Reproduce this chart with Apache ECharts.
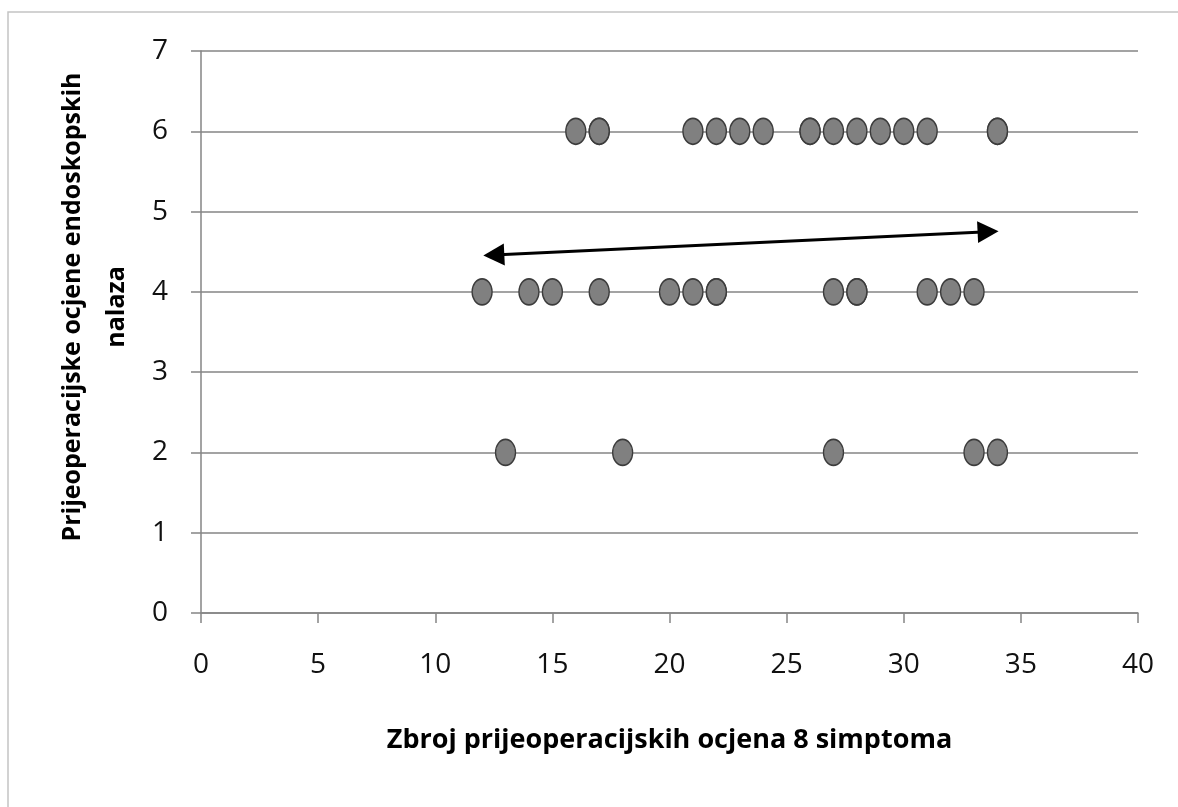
<!DOCTYPE html>
<html>
<head>
<meta charset="utf-8">
<script src="https://cdn.jsdelivr.net/npm/echarts@6/dist/echarts.min.js"></script>
<style>
html,body{margin:0;padding:0;background:#fff;}
#chart{width:1178px;height:807px;}
</style>
</head>
<body>
<div id="chart"></div>
<script>
// Data (repeated values are overlapping markers)
var row6X = [16, 17, 17, 21, 22, 23, 24, 26, 26, 27, 28, 29, 30, 31, 34, 34];
var row4X = [12, 14, 15, 17, 20, 21, 22, 22, 27, 28, 28, 31, 32, 33];
var row2X = [13, 18, 27, 33, 34];
var arrowFrom = [12.5, 4.46];
var arrowTo = [33.6, 4.75];
var xTitle = 'Zbroj prijeoperacijskih ocjena 8 simptoma';
var yTitle = 'Prijeoperacijske ocjene endoskopskih\nnalaza';

var points = [];
row6X.forEach(function (x) { points.push([x, 6]); });
row4X.forEach(function (x) { points.push([x, 4]); });
row2X.forEach(function (x) { points.push([x, 2]); });

var FONT = '"Open Sans", "Noto Sans", sans-serif';
var chart = echarts.init(document.getElementById('chart'));
chart.setOption({
  animation: false,
  backgroundColor: '#fff',
  grid: { left: 201, right: 40, top: 51, bottom: 194, containLabel: false },
  graphic: [
    { type: 'rect', shape: { x: 8, y: 12, width: 1300, height: 900 },
      style: { fill: 'none', stroke: '#c4c4c4', lineWidth: 1.5 }, silent: true, z: -1 },
    { type: 'text', x: 95, y: 307, rotation: Math.PI / 2,
      style: { text: yTitle, align: 'center', verticalAlign: 'middle',
        fontFamily: FONT, fontWeight: 'bold', fontSize: 25, lineHeight: 44, fill: '#000' } }
  ],
  xAxis: {
    type: 'value', min: 0, max: 40, interval: 5,
    name: xTitle, nameLocation: 'middle', nameGap: 114,
    nameTextStyle: { fontFamily: FONT, fontWeight: 'bold', fontSize: 27, color: '#000' },
    axisLine: { show: true, onZero: false, lineStyle: { color: '#858585', width: 1.5 } },
    axisTick: { show: true, length: 10, lineStyle: { color: '#858585', width: 1.5 } },
    axisLabel: { margin: 38, fontFamily: FONT, fontSize: 28, color: '#111' },
    splitLine: { show: false }
  },
  yAxis: {
    type: 'value', min: 0, max: 7, interval: 1,
    axisLine: { show: true, lineStyle: { color: '#858585', width: 1.5 } },
    axisTick: { show: true, length: 10, lineStyle: { color: '#858585', width: 1.5 } },
    axisLabel: { margin: 33, fontFamily: FONT, fontSize: 28, color: '#111' },
    splitLine: { show: true, lineStyle: { color: '#858585', width: 1.5 } }
  },
  series: [
    {
      type: 'scatter',
      data: points,
      symbol: 'circle',
      symbolSize: [20, 26],
      itemStyle: { color: '#808080', borderColor: '#3c3c3c', borderWidth: 1.5, opacity: 1 },
      markLine: {
        silent: true,
        symbol: ['triangle', 'triangle'],
        symbolSize: [22, 21],
        label: { show: false },
        lineStyle: { color: '#000', width: 3, type: 'solid' },
        data: [[{ coord: arrowFrom }, { coord: arrowTo }]]
      }
    }
  ]
});
</script>
</body>
</html>
